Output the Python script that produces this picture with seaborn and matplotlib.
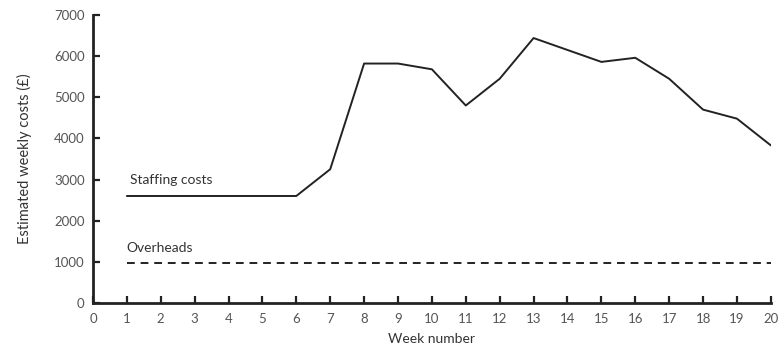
import matplotlib
matplotlib.use("Agg")
import matplotlib.pyplot as plt
import seaborn as sns
import pandas as pd

weeks = list(range(1, 21))
staffing_costs = [2600, 2600, 2600, 2600, 2600, 2600, 3250, 5820, 5820, 5680,
                  4800, 5450, 6440, 6150, 5860, 5960, 5450, 4700, 4480, 3830]
overheads = [960] * 20
x_ticks = list(range(0, 21))
y_ticks = [0, 1000, 2000, 3000, 4000, 5000, 6000, 7000]

sns.set_theme(style="ticks")
plt.rcParams['font.family'] = ['Lato', 'DejaVu Sans']

df_staff = pd.DataFrame({"week": weeks, "cost": staffing_costs})
df_over = pd.DataFrame({"week": weeks, "cost": overheads})

fig = plt.figure(figsize=(7.81, 3.49), dpi=100)
ax = fig.add_axes([0.119, 0.132, 0.868, 0.825])

sns.lineplot(data=df_staff, x="week", y="cost", ax=ax, color="#222222", linewidth=1.4)
sns.lineplot(data=df_over, x="week", y="cost", ax=ax, color="#222222", linewidth=1.4,
             linestyle=(0, (4, 3)))

ax.set_xlim(0, 20)
ax.set_ylim(0, 7000)
ax.set_xticks(x_ticks)
ax.set_yticks(y_ticks)
ax.tick_params(axis="both", direction="in", length=5, width=1.6, color="#222222",
               labelsize=9.5, labelcolor="#555555")
ax.tick_params(axis="x", pad=7)
ax.tick_params(axis="y", pad=6)
for s in ["top", "right"]:
    ax.spines[s].set_visible(False)
for s in ["left", "bottom"]:
    ax.spines[s].set_linewidth(2)
    ax.spines[s].set_color("#222222")

ax.set_xlabel("Week number", fontsize=10, color="#333333", labelpad=6)
ax.set_ylabel("Estimated weekly costs (£)", fontsize=10.5, color="#333333", labelpad=16)

ax.text(1.1, 2980, "Staffing costs", fontsize=10, color="#333333", va="center", ha="left")
ax.text(1.0, 1330, "Overheads", fontsize=10, color="#333333", va="center", ha="left")

fig.savefig("out.png", dpi=100)
